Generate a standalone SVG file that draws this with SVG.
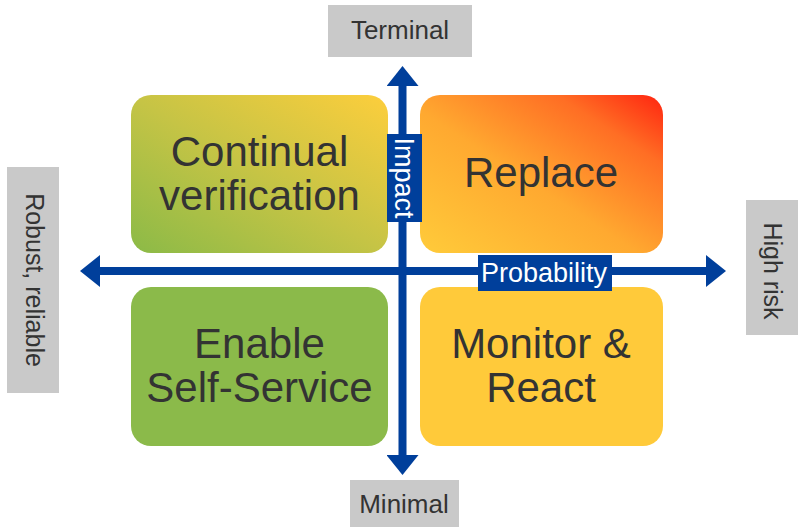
<svg xmlns="http://www.w3.org/2000/svg" width="798" height="527" viewBox="0 0 798 527">
  <defs>
    <linearGradient id="gradCV" x1="0" y1="1" x2="1" y2="0">
      <stop offset="0" stop-color="#8BBA47"/>
      <stop offset="0.5" stop-color="#C6C445"/>
      <stop offset="1" stop-color="#FDCE3C"/>
    </linearGradient>
    <linearGradient id="gradRep" x1="0" y1="1" x2="1" y2="0">
      <stop offset="0" stop-color="#FFCB3A"/>
      <stop offset="0.45" stop-color="#FFA930"/>
      <stop offset="0.78" stop-color="#FF6E24"/>
      <stop offset="1" stop-color="#FF2410"/>
    </linearGradient>
    <marker id="head" viewBox="0 0 20 32" refX="1" refY="16" markerWidth="20" markerHeight="32" markerUnits="userSpaceOnUse" orient="auto-start-reverse">
      <path d="M0,0 L20,16 L0,32 Z" fill="#003F9B"/>
    </marker>
    <style>
      .quad { font-family: "Liberation Sans", Arial, sans-serif; font-size: 42px; fill: #333333; text-anchor: middle; }
      .axis { font-family: "Liberation Sans", Arial, sans-serif; font-size: 26px; fill: #333333; text-anchor: middle; }
      .tag { font-family: "Liberation Sans", Arial, sans-serif; font-size: 27px; fill: #FFFFFF; text-anchor: middle; }
      .gbox { fill: #C9C9C9; }
      .bbox { fill: #003F9B; }
      .axisline { stroke: #003F9B; stroke-width: 8; fill: none; marker-start: url(#head); marker-end: url(#head); }
    </style>
  </defs>

  <g id="continual-verification">
    <rect x="131" y="95" width="257" height="158" rx="20" fill="url(#gradCV)"/>
    <text class="quad" x="259.5" y="166">Continual</text>
    <text class="quad" x="259.5" y="210">verification</text>
  </g>
  <g id="replace">
    <rect x="420" y="95" width="243" height="158" rx="20" fill="url(#gradRep)"/>
    <text class="quad" x="541" y="187">Replace</text>
  </g>
  <g id="enable-self-service">
    <rect x="131" y="287" width="257" height="159" rx="20" fill="#8BBA4A"/>
    <text class="quad" x="259.5" y="358">Enable</text>
    <text class="quad" x="259.5" y="402">Self-Service</text>
  </g>
  <g id="monitor-react">
    <rect x="420" y="287" width="243" height="159" rx="20" fill="#FFCA3A"/>
    <text class="quad" x="541" y="358">Monitor &amp;</text>
    <text class="quad" x="541" y="402">React</text>
  </g>

  <g id="connectors">
    <line class="axisline" x1="402.5" y1="456" x2="402.5" y2="85"/>
    <line class="axisline" x1="99" y1="271" x2="707" y2="271"/>
  </g>

  <g id="impact-label">
    <rect class="bbox" x="387" y="134" width="35" height="88"/>
    <text class="tag" transform="translate(395,178) rotate(90)" x="0" y="0">Impact</text>
  </g>
  <g id="probability-label">
    <rect class="bbox" x="478" y="255" width="134" height="36"/>
    <text class="tag" x="544" y="282">Probability</text>
  </g>

  <g id="terminal">
    <rect class="gbox" x="328" y="5" width="144" height="52"/>
    <text class="axis" x="400" y="39">Terminal</text>
  </g>
  <g id="minimal">
    <rect class="gbox" x="350" y="480" width="109" height="48"/>
    <text class="axis" x="404" y="513">Minimal</text>
  </g>
  <g id="robust-reliable">
    <rect class="gbox" x="7" y="167" width="52" height="226"/>
    <text class="axis" style="font-size:25px" transform="translate(26,280) rotate(90)" x="0" y="0">Robust, reliable</text>
  </g>
  <g id="high-risk">
    <rect class="gbox" x="746" y="200" width="53" height="135"/>
    <text class="axis" style="font-size:25px" transform="translate(764,271) rotate(90)" x="0" y="0">High risk</text>
  </g>
</svg>
